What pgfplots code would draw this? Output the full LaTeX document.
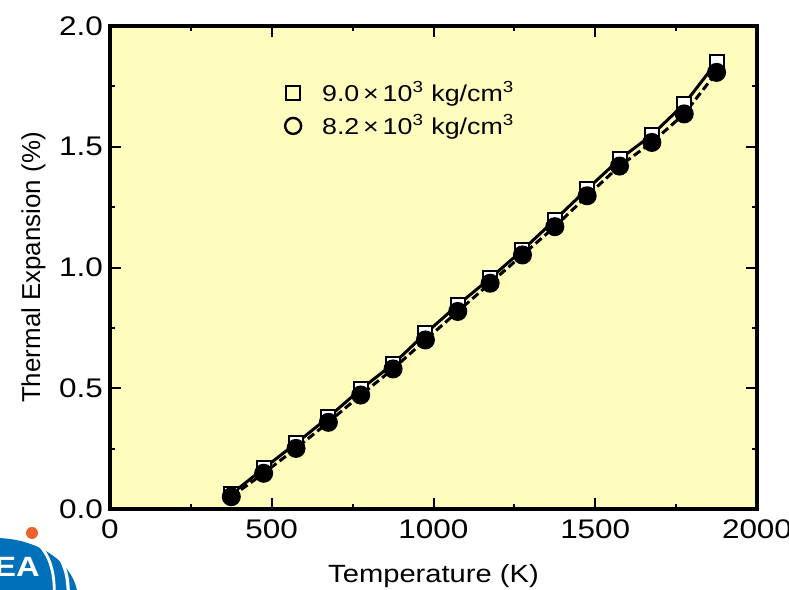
\documentclass[border=0pt]{standalone}
\usepackage{fontspec}
\setmainfont[FakeStretch=1.17]{Liberation Sans}
\newfontfamily\yfont{Liberation Sans}
\usepackage{pgfplots}
\pgfplotsset{compat=1.18}
\definecolor{bgyellow}{RGB}{255,253,190}
\definecolor{logoblue}{RGB}{0,112,186}
\definecolor{logoorange}{RGB}{238,98,50}

\begin{document}
\begin{tikzpicture}
\useasboundingbox (0,0) rectangle (394.5bp,-295bp);
\begin{axis}[
  at={(55bp,-254.5bp)}, anchor=south west,
  scale only axis,
  width=323.5bp, height=241.5bp,
  xmin=0, xmax=2000, ymin=0, ymax=2,
  xtick={0,500,1000,1500,2000},
  ytick={0,0.5,1,1.5,2},
  minor x tick num=1, minor y tick num=1,
  tick align=inside,
  major tick length=5.5bp, minor tick length=2.5bp,
  every tick/.style={black, line width=1bp},
  axis line style={line width=2bp},
  axis background/.style={fill=bgyellow},
  /pgf/number format/assume math mode=true,
  tick label style={font=\fontsize{13.5}{15}\selectfont},
  xticklabel style={/pgf/number format/1000 sep={}, yshift=-2bp},
  yticklabel style={/pgf/number format/fixed, /pgf/number format/fixed zerofill, /pgf/number format/precision=1},
  xlabel={Temperature (K)},
  ylabel={Thermal Expansion (\%)},
  xlabel style={font=\fontsize{12.5}{14}\selectfont, yshift=-6bp},
  ylabel style={font=\yfont\fontsize{13}{14}\selectfont},
  legend cell align=left,
  legend style={at={(rel axis cs:0.267,0.898)}, anchor=north west,
    draw=none, fill=none, font=\fontsize{11.5}{14}\selectfont,
    row sep=1bp, column sep=8.5bp, inner sep=1bp},
]
% 9.0 x 10^3 kg/cm^3 (open squares, solid line)
\addplot[black, line width=1.5bp, solid, mark=square*, mark size=3.5bp,
  mark options={fill=white, solid, line width=1bp}, forget plot]
  coordinates {(375,0.062) (475,0.168) (575,0.272) (675,0.380) (775,0.496)
  (875,0.600) (975,0.727) (1075,0.845) (1175,0.955) (1275,1.072) (1375,1.197)
  (1475,1.325) (1575,1.448) (1675,1.549) (1775,1.677) (1875,1.850)};
% 8.2 x 10^3 kg/cm^3 (filled circles, dashed line)
\addplot[black, line width=1.5bp, dash pattern=on 4bp off 2bp, mark=*, mark size=4bp,
  mark options={fill=black, solid}, forget plot]
  coordinates {(375,0.051) (475,0.148) (575,0.251) (675,0.359) (775,0.472)
  (875,0.580) (975,0.700) (1075,0.818) (1175,0.935) (1275,1.052) (1375,1.169)
  (1475,1.297) (1575,1.420) (1675,1.518) (1775,1.636) (1875,1.808)};
\addlegendimage{only marks, black, mark=square, mark size=3.5bp, line width=1.2bp}
\addlegendentry{9.0\,×\,10\textsuperscript{3} kg/cm\textsuperscript{3}}
\addlegendimage{only marks, black, mark=o, mark size=4bp, line width=1.2bp}
\addlegendentry{8.2\,×\,10\textsuperscript{3} kg/cm\textsuperscript{3}}
\end{axis}
% partly cropped logo at lower left
\begin{scope}[x=0.5bp, y=-0.5bp]
  \fill[logoblue] (-5,600) ellipse [x radius=83, y radius=62];
  \draw[white, line width=1.6bp] (36,537) .. controls (58,548) and (70,566) .. (68,600);
  \draw[white, line width=1.4bp] (33,540) .. controls (48,550) and (56,570) .. (54,600);
  \fill[logoorange] (32,533) circle [radius=6];
  \node[anchor=base east, inner sep=0, text=white, font=\bfseries\fontsize{14}{14}\selectfont] at (40,577) {EA};
\end{scope}
\end{tikzpicture}
\end{document}
